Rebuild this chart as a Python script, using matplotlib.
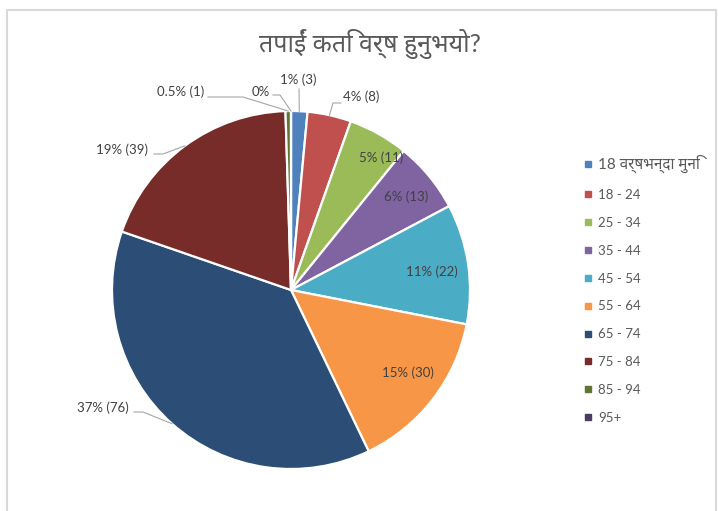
import numpy as np
import matplotlib
import matplotlib.pyplot as plt
from matplotlib import font_manager
from matplotlib.ft2font import FT2Font
from matplotlib.lines import Line2D

# find fonts that can draw Devanagari, prefer Noto ones
cands = []
for f in font_manager.findSystemFonts():
    try:
        if ord('त') in FT2Font(f).get_charmap():
            cands.append(font_manager.FontProperties(fname=f).get_name())
    except Exception:
        pass
cands.sort(key=lambda n: (0 if 'Noto Sans Devanagari' in n else 1 if 'Noto Sans' in n
                          else 2 if 'Noto' in n else 3, n))

families = ['Lato'] + cands[:1] + ['DejaVu Sans']
plt.rcParams['font.family'] = families

# data
title = 'तपाईं कति वर्ष हुनुभयो?'
categories = ['18 वर्षभन्दा मुनि', '18 - 24', '25 - 34', '35 - 44', '45 - 54',
              '55 - 64', '65 - 74', '75 - 84', '85 - 94', '95+']
counts = [3, 8, 11, 13, 22, 30, 76, 39, 1, 0]
pct_labels = ['1%', '4%', '5%', '6%', '11%', '15%', '37%', '19%', '0.5%', '0%']

colors = ['#4F81BD', '#C0504D', '#9BBB59', '#8064A2', '#4BACC6',
          '#F79646', '#2C4D75', '#772C2A', '#5F7530', '#4D3B62']

# layout in pixels (y measured from top)
W, H = 718, 511
cx, cy, R = 291, 290, 179
lbl_pos = [(298, 80), (361, 97), (381, 158), (406, 197), (432, 272),
           (408, 373), (103, 408), (122, 150), (181, 92), (261, 92)]
# leader lines: (elbow, end) for labels placed outside the pie
leaders = {0: [(299, 89)],
           1: [(333, 103), (341, 103)],
           6: [(143, 412), (134, 412)],
           7: [(163, 154), (154, 154)],
           8: [(243, 97), (208, 97)],
           9: [(280, 95), (273, 95)]}

fig = plt.figure(figsize=(W / 100, H / 100), dpi=100)
ax = fig.add_axes([0, 0, 1, 1])

wedges, _ = ax.pie(counts, colors=colors, startangle=90, counterclock=False,
                   center=(cx, H - cy), radius=R,
                   wedgeprops=dict(edgecolor='white', linewidth=1.6))
ax.set_xlim(0, W)
ax.set_ylim(0, H)
ax.set_aspect('auto')
ax.axis('off')

total = sum(counts)
cum = np.cumsum([0] + counts)
for i, v in enumerate(counts):
    text = pct_labels[i] if v == 0 else f'{pct_labels[i]} ({v})'
    lx, ly = lbl_pos[i]
    ax.text(lx, H - ly, text, ha='center', va='center', fontsize=9.5, color='#404040')
    if i in leaders:
        mid = np.deg2rad((cum[i] + v / 2) / total * 360)
        ex, ey = cx + R * np.sin(mid), cy - R * np.cos(mid)
        pts = [(ex, ey)] + leaders[i]
        ax.plot([p[0] for p in pts], [H - p[1] for p in pts],
                color='#A6A6A6', lw=0.8)

ttl = fig.text(370 / W, 1 - 44 / H, title, ha='center', va='center',
               fontsize=18, color='#595959')

handles = [Line2D([], [], marker='s', ls='', color=c, markersize=5) for c in colors]
leg = fig.legend(handles, categories, loc='upper left', bbox_to_anchor=(572 / W, 1 - 143 / H),
                 frameon=False, fontsize=9.5, handlelength=0.6, handletextpad=0.5,
                 labelspacing=1.2, labelcolor='#595959')

# shrink the long first legend entry until it fits inside the chart border
first = leg.get_texts()[0]
first.set_fontsize(11)
fs = 11
fig.canvas.draw()
while first.get_window_extent().x1 > 710 and fs > 5:
    fs -= 0.25
    first.set_fontsize(fs)
    fig.canvas.draw()

# chart border
fig.add_artist(Line2D([7 / W, 7 / W, 716 / W, 716 / W], [0, 1 - 10 / H, 1 - 10 / H, 0],
                      transform=fig.transFigure, color='#D9D9D9', lw=1.5))

fig.savefig('out.png', dpi=100)
